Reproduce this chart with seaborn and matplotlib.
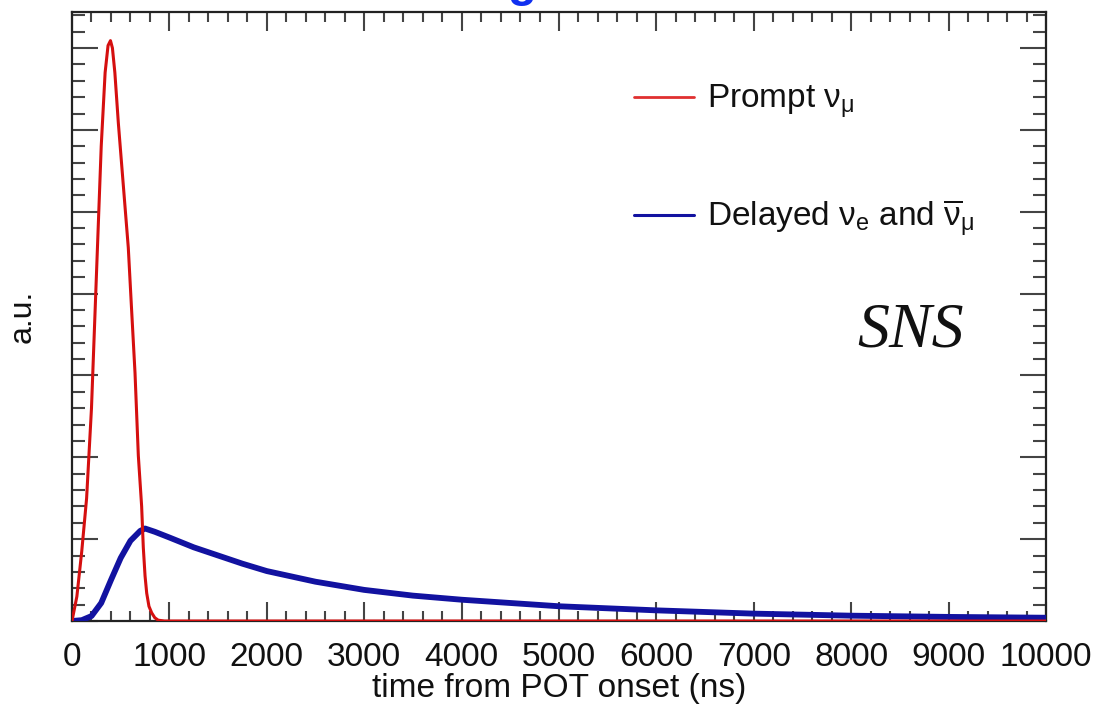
import matplotlib
matplotlib.use("Agg")
import matplotlib.pyplot as plt
from matplotlib.lines import Line2D
from matplotlib.ticker import MultipleLocator, NullFormatter
import seaborn as sns
import pandas as pd

# ---- data ----
t_prompt = [0, 50, 100, 150, 200, 250, 300, 340, 370, 395, 415, 440, 476, 527,
            578, 612, 647, 681, 715, 732, 750, 767, 790, 818, 850, 885, 950, 10000]
v_prompt = [0, 0.3, 0.85, 1.5, 2.6, 4.2, 5.8, 6.7, 7.03, 7.09, 7.0, 6.7, 6.08,
            5.32, 4.56, 3.8, 3.03, 2.02, 1.4, 0.9, 0.55, 0.34, 0.18, 0.1, 0.04,
            0.01, 0, 0]

t_delayed = [0, 100, 200, 300, 400, 500, 600, 700, 750, 850, 1000, 1250, 1500,
             1750, 2000, 2500, 3000, 3500, 4000, 4500, 5000, 6000, 7000, 8000,
             9000, 10000]
v_delayed = [0, 0.01, 0.06, 0.22, 0.50, 0.77, 0.98, 1.10, 1.13, 1.09, 1.02, 0.90,
             0.80, 0.70, 0.61, 0.48, 0.38, 0.31, 0.26, 0.22, 0.18, 0.13, 0.09,
             0.065, 0.05, 0.04]

labels = [r'Prompt $\nu_{\mu}$', r'Delayed $\nu_{e}$ and $\overline{\nu}_{\mu}$']
x_ticks = list(range(0, 10001, 1000))

RED = '#D50F0F'
BLUE = '#1212A0'

sns.set_style('ticks')
plt.rcParams['font.family'] = ['Liberation Sans', 'DejaVu Sans']
plt.rcParams['mathtext.fontset'] = 'custom'
plt.rcParams['mathtext.rm'] = 'Liberation Sans'
plt.rcParams['mathtext.it'] = 'Liberation Sans'
plt.rcParams['mathtext.bf'] = 'Liberation Sans:bold'

fig = plt.figure(figsize=(11.01, 7.08), dpi=100)
ax = fig.add_axes([72/1101, 1-621/708, (1046-72)/1101, (621-12)/708])

df_p = pd.DataFrame({'t': t_prompt, 'v': v_prompt})
df_d = pd.DataFrame({'t': t_delayed, 'v': v_delayed})
sns.lineplot(data=df_d, x='t', y='v', ax=ax, color=BLUE, linewidth=4.2, sort=False,
             zorder=3)
sns.lineplot(data=df_p, x='t', y='v', ax=ax, color=RED, linewidth=2.2, sort=False,
             zorder=3)

ax.set_xlim(0, 10000)
ax.set_ylim(0, 7.44)
ax.set_xticks(x_ticks)
ax.set_xticklabels([str(t) for t in x_ticks])
ax.xaxis.set_minor_locator(MultipleLocator(200))
ax.yaxis.set_major_locator(MultipleLocator(1))
ax.yaxis.set_minor_locator(MultipleLocator(0.2))
ax.yaxis.set_major_formatter(NullFormatter())

for s in ax.spines.values():
    s.set_linewidth(1.6)
    s.set_color('#222222')

ax.tick_params(axis='x', which='major', direction='in', length=14, width=1.5,
               top=True, bottom=True, colors='#444444', labelcolor='#111111',
               labelsize=24, pad=15)
ax.tick_params(axis='x', which='minor', direction='in', length=7, width=1.5,
               top=True, bottom=True, colors='#444444')
ax.tick_params(axis='y', which='major', direction='in', length=19, width=1.5,
               left=True, right=True, colors='#444444')
ax.tick_params(axis='y', which='minor', direction='in', length=9.5, width=1.5,
               left=True, right=True, colors='#444444')

ax.set_xlabel('time from POT onset (ns)', fontsize=24, labelpad=0, color='#111111')
ax.set_ylabel('a.u.', fontsize=23, labelpad=21, color='#111111')

handles = [Line2D([], [], color='#E03030', linewidth=2.0),
           Line2D([], [], color=BLUE, linewidth=2.2)]
ax.legend(handles, labels, loc='upper left', bbox_to_anchor=(634/1101, 1-83/708),
          bbox_transform=fig.transFigure, frameon=False, fontsize=24,
          handlelength=1.8, handletextpad=0.4, labelspacing=2.3,
          borderpad=0, borderaxespad=0, labelcolor='#111111')

fig.text(857/1101, 1-347/708, 'SNS', ha='left', va='baseline', fontsize=46,
         family='Liberation Serif', style='italic', color='#111111')

# fragment of a blue heading cut off at the top edge, as in the reference
fig.text(522/1101, 1+4/708, 'g', ha='center', va='baseline', fontsize=34,
         fontweight='bold', color='#1030F0')

fig.savefig('out.png', dpi=100)
